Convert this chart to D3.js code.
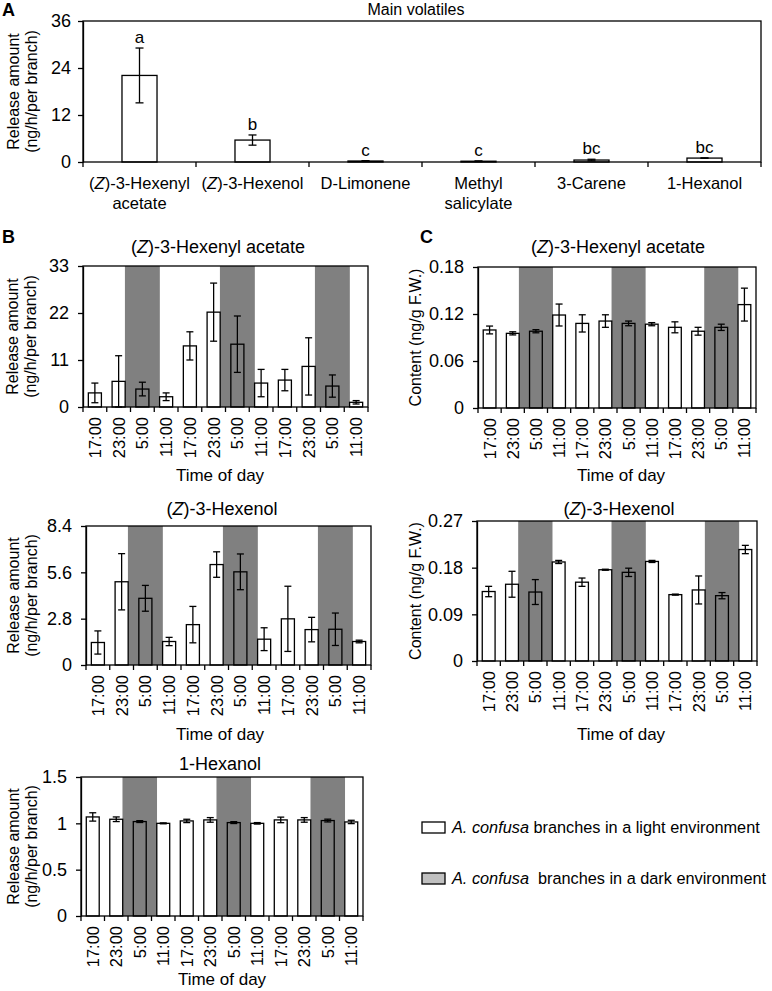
<!DOCTYPE html>
<html>
<head>
<meta charset="utf-8">
<script src="https://cdn.jsdelivr.net/npm/d3@7"></script>
<style>
body { margin: 0; background: #fff; }
svg { font-family: "Liberation Sans", Arial, sans-serif; }
</style>
</head>
<body>
<div id="chart"></div>
<script>
// ---- panel A: main volatiles
const mainCategories = ["(Z)-3-Hexenyl\nacetate", "(Z)-3-Hexenol", "D-Limonene", "Methyl\nsalicylate", "3-Carene", "1-Hexanol"]
const mainMeans = [22.1, 5.6, 0.25, 0.2, 0.5, 1.0]
const mainErr = [7.0, 1.3, 0.1, 0.08, 0.2, 0.05]
const mainLetters = ["a", "b", "c", "c", "bc", "bc"]
const mainTicks = [0, 12, 24, 36]

// ---- time course (B and C)
const hours = ["17:00", "23:00", "5:00", "11:00", "17:00", "23:00", "5:00", "11:00", "17:00", "23:00", "5:00", "11:00"]
const isDark = [false, false, true, false, false, false, true, false, false, false, true, false]

const hexAcRelease = [3.3, 6.0, 4.2, 2.4, 14.3, 22.2, 14.7, 5.6, 6.3, 9.5, 4.9, 1.1]
const hexAcReleaseErr = [2.3, 6.0, 1.6, 0.9, 3.3, 6.8, 6.6, 3.2, 2.5, 6.7, 2.6, 0.4]
const hexAcReleaseTicks = [0, 11, 22, 33]

const hexenolRelease = [1.36, 5.03, 4.03, 1.42, 2.44, 6.07, 5.63, 1.56, 2.79, 2.14, 2.16, 1.42]
const hexenolReleaseErr = [0.7, 1.7, 0.78, 0.25, 1.1, 0.77, 1.08, 0.69, 1.97, 0.74, 0.98, 0.08]
const hexenolReleaseTicks = [0, 2.8, 5.6, 8.4]

const hexanolRelease = [1.069, 1.044, 1.019, 1.0, 1.026, 1.037, 1.008, 1.0, 1.037, 1.037, 1.03, 1.015]
const hexanolReleaseErr = [0.045, 0.025, 0.01, 0.005, 0.018, 0.025, 0.01, 0.008, 0.03, 0.025, 0.015, 0.018]
const hexanolReleaseTicks = [0, 0.5, 1, 1.5]

const hexAcContent = [0.0996, 0.0953, 0.098, 0.1187, 0.108, 0.111, 0.108, 0.107, 0.103, 0.098, 0.103, 0.132]
const hexAcContentErr = [0.005, 0.002, 0.002, 0.014, 0.011, 0.008, 0.003, 0.002, 0.007, 0.005, 0.004, 0.021]
const hexAcContentTicks = [0, 0.06, 0.12, 0.18]

const hexenolContent = [0.134, 0.148, 0.133, 0.191, 0.152, 0.176, 0.171, 0.192, 0.128, 0.137, 0.126, 0.215]
const hexenolContentErr = [0.01, 0.025, 0.024, 0.003, 0.008, 0.001, 0.008, 0.002, 0.001, 0.027, 0.006, 0.008]
const hexenolContentTicks = [0, 0.09, 0.18, 0.27]

const legendItems = [
	{ rest: " branches in a light environment", fill: "#fff" },
	{ rest: "  branches in a dark environment", fill: "#c0c0c0" }
]

const W = 772, H = 991
const FS = 16
const TICKFS = 18
const TITLEFS = 18
const GRAY = "#808080"
const LW = 1.3

let svg = d3.select("#chart").append("svg")
	.attr("width", W)
	.attr("height", H)

// writes "(Z)" with an italic Z
function addName(sel, name) {
	const m = name.match(/^\(Z\)(.*)$/)
	if (m) {
		sel.append("tspan").text("(")
		sel.append("tspan").attr("font-style", "italic").text("Z")
		sel.append("tspan").text(")" + m[1])
	} else {
		sel.append("tspan").text(name)
	}
}

function drawPanel(cfg) {
	const box = cfg.box
	const n = cfg.means.length
	const g = svg.append("g")

	const x = d3.scaleBand()
		.domain(d3.range(n))
		.range([box.left, box.right])
		.paddingInner(cfg.pad)
		.paddingOuter(cfg.pad / 2)
	const y = d3.scaleLinear()
		.domain([0, d3.max(cfg.ticks)])
		.range([box.bottom, box.top])

	// dark period shading
	if (cfg.dark) {
		g.selectAll("rect.dark")
			.data(d3.range(n).filter(i => cfg.dark[i]))
			.enter().append("rect")
			.attr("class", "dark")
			.attr("x", i => x(i) + x.bandwidth() / 2 - 0.735 * x.step())
			.attr("width", 1.47 * x.step())
			.attr("y", box.top)
			.attr("height", box.bottom - box.top)
			.attr("fill", GRAY)
	}

	// bars
	g.selectAll("rect.bar")
		.data(d3.range(n))
		.enter().append("rect")
		.attr("class", "bar")
		.attr("x", i => x(i))
		.attr("width", x.bandwidth())
		.attr("y", i => y(cfg.means[i]))
		.attr("height", i => y(0) - y(cfg.means[i]))
		.attr("fill", i => cfg.dark && cfg.dark[i] ? GRAY : "#fff")
		.attr("stroke", "#000")
		.attr("stroke-width", LW)

	// error bars
	const cap = cfg.cap
	const eb = g.selectAll("g.err")
		.data(d3.range(n))
		.enter().append("g")
		.attr("stroke", "#000")
		.attr("stroke-width", LW)
	eb.append("line")
		.attr("x1", i => x(i) + x.bandwidth() / 2)
		.attr("x2", i => x(i) + x.bandwidth() / 2)
		.attr("y1", i => y(Math.max(0, cfg.means[i] - cfg.errs[i])))
		.attr("y2", i => y(cfg.means[i] + cfg.errs[i]))
	eb.append("line")
		.attr("x1", i => x(i) + x.bandwidth() / 2 - cap)
		.attr("x2", i => x(i) + x.bandwidth() / 2 + cap)
		.attr("y1", i => y(cfg.means[i] + cfg.errs[i]))
		.attr("y2", i => y(cfg.means[i] + cfg.errs[i]))
	eb.append("line")
		.attr("x1", i => x(i) + x.bandwidth() / 2 - cap)
		.attr("x2", i => x(i) + x.bandwidth() / 2 + cap)
		.attr("y1", i => y(Math.max(0, cfg.means[i] - cfg.errs[i])))
		.attr("y2", i => y(Math.max(0, cfg.means[i] - cfg.errs[i])))

	// letters over bars
	if (cfg.letters) {
		g.selectAll("text.letter")
			.data(d3.range(n))
			.enter().append("text")
			.attr("x", i => x(i) + x.bandwidth() / 2)
			.attr("y", i => y(cfg.means[i] + cfg.errs[i]) - 5)
			.attr("text-anchor", "middle")
			.attr("font-size", FS + 1)
			.text(i => cfg.letters[i])
	}

	// frame
	g.append("rect")
		.attr("x", box.left)
		.attr("y", box.top)
		.attr("width", box.right - box.left)
		.attr("height", box.bottom - box.top)
		.attr("fill", "none")
		.attr("stroke", "#000")
		.attr("stroke-width", LW)

	// y axis
	const yAxis = g.append("g")
		.attr("transform", "translate(" + box.left + ",0)")
		.call(d3.axisLeft(y).tickValues(cfg.ticks).tickSize(5).tickSizeOuter(0).tickPadding(cfg.tickPad).tickFormat(d3.format("")))
	yAxis.attr("font-size", TICKFS).attr("font-family", null)
	yAxis.selectAll("line").attr("stroke-width", LW)
	yAxis.select(".domain").attr("stroke-width", LW)

	// x boundary ticks
	g.selectAll("line.xt")
		.data(d3.range(n + 1))
		.enter().append("line")
		.attr("x1", i => box.left + i * x.step())
		.attr("x2", i => box.left + i * x.step())
		.attr("y1", box.bottom)
		.attr("y2", box.bottom + 5)
		.attr("stroke", "#000")
		.attr("stroke-width", LW)

	// x labels
	if (cfg.rotated) {
		g.selectAll("text.xl")
			.data(d3.range(n))
			.enter().append("text")
			.attr("transform", i => "translate(" + (x(i) + x.bandwidth() / 2) + "," + (box.bottom + 10) + ") rotate(-90)")
			.attr("text-anchor", "end")
			.attr("dy", "0.36em")
			.attr("font-size", FS + 0.5)
			.text(i => cfg.labels[i])
		g.append("text")
			.attr("x", cfg.timeX)
			.attr("y", cfg.timeY)
			.attr("text-anchor", "middle")
			.attr("font-size", FS + 1)
			.text("Time of day")
	} else {
		d3.range(n).forEach(i => {
			cfg.labels[i].split("\n").forEach((line, k) => {
				const t = g.append("text")
					.attr("x", x(i) + x.bandwidth() / 2)
					.attr("y", box.bottom + 27 + k * 20)
					.attr("text-anchor", "middle")
					.attr("font-size", FS + 0.5)
				addName(t, line)
			})
		})
	}

	// title
	const tt = g.append("text")
		.attr("x", cfg.titleX)
		.attr("y", cfg.titleY)
		.attr("text-anchor", "middle")
		.attr("font-size", cfg.titleFS || TITLEFS)
	addName(tt, cfg.title)

	// y label (rotated)
	const cy = (box.top + box.bottom) / 2
	cfg.ylab.forEach((line, k) => {
		g.append("text")
			.attr("transform", "translate(" + cfg.ylabX[k] + "," + cy + ") rotate(-90)")
			.attr("text-anchor", "middle")
			.attr("font-size", FS)
			.text(line)
	})
}

const releaseLab = ["Release amount", "(ng/h/per branch)"]
const contentLab = ["Content (ng/g F.W.)"]

drawPanel({
	box: { left: 83, right: 761, top: 21, bottom: 162 },
	means: mainMeans, errs: mainErr, ticks: mainTicks, labels: mainCategories,
	letters: mainLetters, pad: 0.69, cap: 4, tickPad: 7,
	title: "Main volatiles", titleX: 416, titleY: 15, titleFS: 16,
	ylab: releaseLab, ylabX: [19, 37]
})

const timePanels = [
	{ box: { left: 83, right: 368, top: 266, bottom: 407 }, means: hexAcRelease, errs: hexAcReleaseErr, ticks: hexAcReleaseTicks,
	  title: "(Z)-3-Hexenyl acetate", titleX: 218, titleY: 253, ylab: releaseLab, ylabX: [18, 36], timeX: 220, timeY: 481 },
	{ box: { left: 86, right: 371, top: 526, bottom: 665 }, means: hexenolRelease, errs: hexenolReleaseErr, ticks: hexenolReleaseTicks,
	  title: "(Z)-3-Hexenol", titleX: 222, titleY: 515, ylab: releaseLab, ylabX: [19, 37], timeX: 220, timeY: 740 },
	{ box: { left: 81, right: 363, top: 777, bottom: 916 }, means: hexanolRelease, errs: hexanolReleaseErr, ticks: hexanolReleaseTicks,
	  title: "1-Hexanol", titleX: 220, titleY: 770, ylab: releaseLab, ylabX: [19, 37], timeX: 222, timeY: 985 },
	{ box: { left: 478, right: 756, top: 267, bottom: 408 }, means: hexAcContent, errs: hexAcContentErr, ticks: hexAcContentTicks,
	  title: "(Z)-3-Hexenyl acetate", titleX: 618, titleY: 253, ylab: contentLab, ylabX: [421], timeX: 621, timeY: 481 },
	{ box: { left: 477, right: 757, top: 521, bottom: 661 }, means: hexenolContent, errs: hexenolContentErr, ticks: hexenolContentTicks,
	  title: "(Z)-3-Hexenol", titleX: 619, titleY: 515, ylab: contentLab, ylabX: [421], timeX: 621, timeY: 740 }
]
timePanels.forEach(p => {
	p.labels = hours
	p.dark = isDark
	p.pad = 0.45
	p.cap = 3.5
	p.tickPad = 9
	p.rotated = true
	drawPanel(p)
})

// panel letters
;[["A", 2, 16], ["B", 2, 243], ["C", 420, 243]].forEach(d => {
	svg.append("text")
		.attr("x", d[1])
		.attr("y", d[2])
		.attr("font-size", 18)
		.attr("font-weight", "bold")
		.text(d[0])
})

// legend
let legend = svg.append("g").attr("transform", "translate(422,822)")
legendItems.forEach((d, i) => {
	const row = legend.append("g").attr("transform", "translate(0," + (i * 51) + ")")
	row.append("rect")
		.attr("width", 23)
		.attr("height", 11)
		.attr("fill", d.fill)
		.attr("stroke", "#000")
		.attr("stroke-width", LW)
	const t = row.append("text")
		.attr("x", 30)
		.attr("y", 11)
		.attr("font-size", FS + 0.3)
		.attr("xml:space", "preserve")
		.style("white-space", "pre")
	t.append("tspan").attr("font-style", "italic").text("A. confusa")
	t.append("tspan").text(d.rest)
})
</script>
</body>
</html>
